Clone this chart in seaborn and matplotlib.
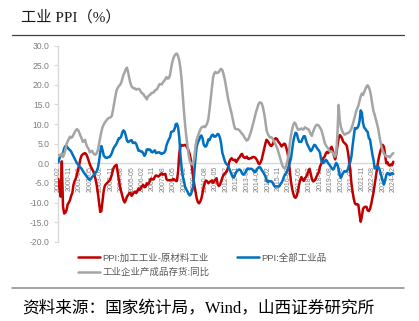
import numpy as np
import pandas as pd
import matplotlib
matplotlib.use("Agg")
import matplotlib.pyplot as plt
from matplotlib.lines import Line2D
import seaborn as sns

# ---------------- data (monthly, 2000-02 .. 2024-02) ----------------
ppi_all = [
    0.2, 1.3, 2.0, 2.1, 2.6, 3.8, 4.4, 4.4, 4.0, 3.6, 3.4,                 # 2000
    3.0, 2.4, 1.8, 1.2, 0.6, 0.0, -0.3, -0.7, -1.1, -1.4, -1.9, -2.4,      # 2001
    -2.8, -3.2, -3.6, -4.0, -4.2, -4.0, -3.5, -3.2, -2.7, -2.3, -2.0, -1.2,  # 2002
    0.5, 2.8, 4.4, 3.4, 2.0, 1.6, 1.4, 1.4, 1.6, 1.6, 2.0, 2.6,            # 2003
    3.5, 4.1, 4.5, 5.0, 5.7, 6.4, 6.4, 6.8, 7.9, 8.4, 8.1, 7.1,            # 2004
    5.8, 5.4, 5.6, 5.8, 5.9, 5.2, 5.2, 5.3, 4.9, 4.0, 3.2, 3.2,            # 2005
    3.0, 3.0, 2.5, 1.9, 2.4, 3.5, 3.6, 3.4, 3.5, 2.9, 2.8, 3.1,            # 2006
    3.3, 2.6, 2.7, 2.8, 2.8, 2.5, 2.4, 2.6, 2.7, 3.2, 4.6, 5.4,            # 2007
    6.1, 6.6, 8.0, 8.1, 8.2, 8.8, 10.0, 10.1, 9.1, 6.6, 2.0, -1.1,         # 2008
    -3.3, -4.5, -6.0, -6.6, -7.2, -7.8, -8.2, -7.9, -7.0, -5.8, -2.1, 1.7,  # 2009
    4.3, 5.4, 5.9, 6.8, 7.1, 6.4, 4.8, 4.3, 4.3, 5.0, 6.1, 5.9,            # 2010
    6.6, 7.2, 7.3, 6.8, 6.8, 7.1, 7.5, 7.3, 6.5, 5.0, 2.7, 1.7,            # 2011
    0.7, 0.0, -0.3, -0.7, -1.4, -2.1, -2.9, -3.5, -3.6, -2.8, -2.2, -1.9,  # 2012
    -1.6, -1.6, -1.9, -2.6, -2.9, -2.7, -2.3, -1.6, -1.3, -1.5, -1.4, -1.4,  # 2013
    -1.6, -2.0, -2.3, -2.0, -1.4, -1.1, -0.9, -1.2, -1.8, -2.2, -2.7, -3.3,  # 2014
    -4.3, -4.8, -4.6, -4.6, -4.6, -4.8, -5.4, -5.9, -5.9, -5.9, -5.9, -5.9,  # 2015
    -5.3, -4.9, -4.3, -3.4, -2.8, -2.6, -1.7, -0.8, 0.1, 1.2, 3.3, 5.5,    # 2016
    6.9, 7.8, 7.6, 6.4, 5.5, 5.5, 5.5, 6.3, 6.9, 6.9, 5.8, 4.9,            # 2017
    4.3, 3.7, 3.1, 3.4, 4.1, 4.7, 4.6, 4.1, 3.6, 3.3, 2.7, 0.9,            # 2018
    0.1, 0.1, 0.4, 0.9, 0.6, 0.0, -0.3, -0.8, -1.2, -1.6, -1.4, -0.5,      # 2019
    0.1, -0.4, -1.5, -3.1, -3.7, -3.0, -2.4, -2.0, -2.1, -2.1, -1.5, -0.4,  # 2020
    0.3, 1.7, 4.4, 6.8, 9.0, 8.8, 9.0, 9.5, 10.7, 13.5, 12.9, 10.3,        # 2021
    9.1, 8.8, 8.3, 8.0, 6.4, 6.1, 4.2, 2.3, 0.9, -1.3, -1.3, -0.7,         # 2022
    -0.8, -1.4, -2.5, -3.6, -4.6, -5.4, -4.4, -3.0, -2.5, -2.6, -3.0, -2.7,  # 2023
    -2.5, -2.7,                                                            # 2024
]

ppi_spread = [
    -4.0, -6.5, -8.5, 0.5, -11.0, -12.8, -12.6, -12.0, -10.5, -10.0, -9.4,   # 2000
    -8.3, -7.6, -5.5, -4.5, -3.9, -2.9, -1.5, -0.3, 1.1, 2.0, 2.3, 2.5,      # 2001
    2.6, 2.3, 1.6, 0.7, -0.2, -0.9, -1.5, -2.0, -2.9, -4.1, -5.6, -7.6,      # 2002
    -10.0, -12.4, -12.2, -9.5, -7.0, -5.7, -5.3, -5.0, -4.7, -4.4, -3.8, -2.9,  # 2003
    -1.6, -0.9, -0.6, -0.4, -2.2, -4.2, -6.0, -7.2, -8.3, -9.4, -10.0, -9.4,   # 2004
    -8.5, -8.1, -7.6, -7.5, -8.3, -7.9, -7.4, -7.2, -7.6, -7.0, -6.4, -6.8,   # 2005
    -6.3, -5.8, -5.5, -6.1, -6.0, -5.1, -5.4, -5.0, -4.2, -3.9, -4.1, -4.1,   # 2006
    -3.4, -3.1, -3.2, -3.4, -3.1, -2.8, -2.6, -2.9, -2.8, -2.7, -4.1, -4.3,   # 2007
    -4.3, -4.3, -4.3, -4.2, -4.0, -4.2, -4.5, -4.5, -2.0, 2.5, 4.4, 4.7,      # 2008
    4.5, 4.6, 4.7, 4.4, 3.9, 3.2, 2.3, 0.8, -1.3, -3.7, -5.6, -7.3,          # 2009
    -9.0, -9.9, -10.2, -9.8, -9.0, -7.6, -6.0, -4.8, -4.4, -4.6, -5.1, -4.8,  # 2010
    -4.6, -4.4, -5.0, -4.6, -4.2, -3.8, -5.3, -5.8, -5.5, -4.6, -3.7, -3.0,   # 2011
    -2.7, -2.3, -2.0, -1.0, 0.4, 1.0, 1.3, 0.9, 0.8, 0.9, 0.3, 0.8,          # 2012
    1.3, 1.6, 2.2, 2.4, 1.7, 1.4, 1.4, 1.7, 1.2, 1.1, 1.3, 1.3,              # 2013
    1.6, 1.6, 1.5, 1.2, 0.7, 0.0, -0.2, 0.3, 1.1, 2.4, 3.8, 5.0,             # 2014
    6.0, 5.7, 5.2, 4.7, 4.4, 4.7, 5.3, 6.2, 6.4, 6.2, 5.6, 5.2,              # 2015
    4.8, 4.3, 4.6, 5.0, 4.9, 4.0, 2.8, 1.0, -1.8, -4.6, -6.4, -7.7,          # 2016
    -8.6, -8.8, -8.3, -7.1, -5.5, -4.2, -3.5, -4.2, -4.5, -3.8, -3.5, -2.9,   # 2017
    -2.0, -1.4, -2.6, -4.0, -4.6, -4.5, -4.1, -3.4, -2.8, -2.2, -0.8, -0.2,   # 2018
    0.6, 1.4, 1.7, 2.5, 2.9, 2.6, 3.1, 3.8, 4.2, 3.3, 2.0, 1.0,              # 2019
    2.3, 4.5, 6.3, 7.2, 6.9, 6.3, 5.5, 5.2, 4.9, 4.5, 2.9, 0.8,              # 2020
    -1.8, -5.0, -7.2, -9.0, -10.2, -10.5, -10.4, -10.6, -13.0, -14.9, -13.6, -11.6,  # 2021
    -11.2, -11.1, -11.1, -12.0, -12.2, -11.7, -10.5, -8.9, -7.5, -5.5, -3.5, -1.5,   # 2022
    0.5, 2.0, 3.2, 4.0, 4.7, 4.2, 2.0, 0.0, 0.3, -0.4, -0.6, -0.3,           # 2023
    -0.5, 0.4,                                                               # 2024
]

inventory_yoy = [
    2.1, 1.9, 2.2, 2.5, 1.6, 2.3, 3.4, 4.9, 5.6, 6.2, 6.8,                   # 2000
    6.5, 6.7, 7.3, 7.9, 8.4, 8.7, 8.5, 7.8, 7.0, 6.4, 5.5, 5.6,              # 2001
    6.0, 4.8, 4.1, 3.7, 2.8, 3.0, 3.2, 2.6, 2.3, 2.2, 2.6, 3.4,              # 2002
    5.0, 6.6, 8.1, 9.2, 9.9, 10.4, 10.8, 11.2, 11.5, 11.6, 11.8, 12.1,       # 2003
    13.6, 15.3, 17.0, 18.5, 19.2, 19.7, 20.0, 20.5, 21.5, 22.6, 23.2, 24.0,  # 2004
    24.4, 23.2, 21.7, 20.4, 19.6, 19.3, 19.1, 19.1, 18.8, 18.9, 19.0, 18.8,  # 2005
    18.2, 17.9, 17.7, 17.2, 16.8, 16.3, 17.0, 17.3, 17.5, 17.9, 18.0, 18.1,  # 2006
    18.6, 18.7, 19.0, 19.6, 20.2, 20.2, 20.1, 20.7, 21.0, 21.5, 22.0, 21.6,  # 2007
    21.7, 22.5, 24.3, 25.8, 26.9, 27.5, 27.9, 28.0, 27.3, 26.2, 24.2, 21.3,  # 2008
    17.1, 13.3, 9.8, 6.9, 4.6, 2.2, 0.6, 0.0, -0.3, 0.0, 1.5, 4.5,           # 2009
    6.1, 6.9, 7.8, 8.6, 9.1, 9.3, 9.4, 9.2, 9.6, 10.2, 11.3, 13.7,           # 2010
    16.4, 19.2, 21.8, 22.9, 23.3, 23.0, 23.1, 23.3, 23.8, 24.1, 23.8, 22.8,  # 2011
    21.6, 19.9, 18.1, 16.4, 15.1, 13.9, 12.7, 11.2, 9.8, 8.8, 8.7, 8.7,      # 2012
    8.6, 8.3, 7.9, 7.5, 7.2, 6.6, 6.2, 5.8, 6.0, 6.6, 7.5, 8.4,              # 2013
    9.5, 10.7, 11.9, 13.1, 14.0, 15.0, 15.5, 15.5, 15.2, 14.2, 12.7, 10.8,   # 2014
    8.5, 7.6, 7.0, 6.6, 6.7, 6.4, 5.9, 5.2, 4.7, 4.0, 3.1, 2.1,              # 2015
    1.1, 0.0, -0.8, -1.2, -1.2, -0.6, 0.6, 2.3, 4.9, 7.0, 8.6, 9.8,          # 2016
    10.4, 10.1, 9.3, 8.6, 8.6, 8.7, 8.9, 8.6, 8.7, 9.2, 9.0, 8.8,            # 2017
    8.7, 8.2, 7.4, 7.0, 8.0, 8.8, 9.4, 9.8, 9.8, 9.6, 9.1, 8.6,              # 2018
    7.7, 6.5, 5.3, 4.6, 4.2, 3.8, 3.2, 3.0, 3.0, 2.7, 2.2, 1.7,              # 2019
    2.8, 7.5, 14.9, 11.0, 9.2, 8.3, 7.7, 7.3, 7.4, 7.7, 7.7, 7.9,            # 2020
    8.3, 8.8, 9.8, 10.8, 12.0, 13.2, 14.0, 14.7, 15.9, 17.1, 17.8, 17.4,     # 2021
    18.2, 18.9, 19.6, 19.9, 19.4, 18.5, 17.0, 15.0, 13.3, 12.4, 11.3, 10.1,  # 2022
    8.9, 7.1, 5.5, 4.1, 3.2, 2.5, 2.0, 1.7, 1.8, 1.8, 1.5, 1.9,              # 2023
    2.3, 2.6,                                                                # 2024
]

series_names = ["PPI:加工工业-原材料工业", "PPI:全部工业品", "工业企业产成品存货:同比"]
series_colors = ["#C00000", "#0070C0", "#A5A5A5"]

tick_labels = [
    "2000-02", "2000-11", "2001-08", "2002-05", "2003-02", "2003-11", "2004-08",
    "2005-05", "2006-02", "2006-11", "2007-08", "2008-05", "2009-02", "2009-11",
    "2010-08", "2011-05", "2012-02", "2012-11", "2013-08", "2014-05", "2015-02",
    "2015-11", "2016-08", "2017-05", "2018-02", "2018-11", "2019-08", "2020-05",
    "2021-02", "2021-11", "2022-08", "2023-05", "2024-02",
]
y_ticks = [-20, -15, -10, -5, 0, 5, 10, 15, 20, 25, 30]

# ---------------- build long table ----------------
months = pd.period_range("2000-02", periods=len(ppi_all), freq="M")
month_str = [str(p) for p in months]
idx = np.arange(len(months))
frames = []
for name, vals in zip(series_names, [ppi_spread, ppi_all, inventory_yoy]):
    frames.append(pd.DataFrame({"idx": idx, "month": month_str, "value": vals, "series": name}))
df = pd.concat(frames, ignore_index=True)

# ---------------- style ----------------
sns.set_theme(style="white")
plt.rcParams["font.family"] = ["Liberation Sans", "Noto Sans CJK SC", "DejaVu Sans"]
plt.rcParams["axes.unicode_minus"] = False

fig = plt.figure(figsize=(4.19, 3.21), dpi=100)
ax = fig.add_axes([58 / 419, 1 - 241.7 / 321, (395 - 58) / 419, (241.7 - 45.7) / 321])

sns.lineplot(data=df, x="idx", y="value", hue="series", hue_order=series_names,
             palette=series_colors, linewidth=1.8, estimator=None, sort=False, ax=ax)
for ln in ax.get_lines():
    ln.set_solid_joinstyle("round")
if ax.get_legend() is not None:
    ax.get_legend().remove()

# spines first (set_position resets ticks)
ax.spines["bottom"].set_position(("data", 0))
for s in ["top", "right"]:
    ax.spines[s].set_visible(False)
for s in ["left", "bottom"]:
    ax.spines[s].set_color("#D9D9D9")
    ax.spines[s].set_linewidth(1.0)
    ax.spines[s].set_zorder(0.5)

ax.set_ylim(-20, 30)
ax.set_xlim(-0.3, 289.5)
ax.set_xlabel("")
ax.set_ylabel("")

# y axis
ax.set_yticks(y_ticks)
ax.set_yticklabels([f"{v:.1f}" for v in y_ticks])
ax.tick_params(axis="y", which="major", direction="out", length=3, width=0.8,
               color="#D9D9D9", labelsize=6.2, labelcolor="#7F7F7F", pad=3, left=True)

# x axis at zero
tick_pos = [month_str.index(t) for t in tick_labels]
ax.set_xticks(tick_pos)
ax.set_xticklabels(tick_labels)
ax.tick_params(axis="x", which="major", length=0, labelsize=5.0, labelcolor="#7F7F7F",
               pad=2, labelrotation=90, bottom=True)
for lab in ax.get_xticklabels():
    lab.set_verticalalignment("top")
    lab.set_horizontalalignment("center")

ax.set_facecolor("white")
fig.patch.set_facecolor("white")

# legend
handles = [Line2D([0], [0], color=c, lw=1.8) for c in series_colors]
order = [0, 2, 1]
fig.legend([handles[i] for i in order], [series_names[i] for i in order],
           ncol=2, loc="upper left", bbox_to_anchor=(78 / 419, 1 - 253 / 321),
           frameon=False, fontsize=6.8, labelcolor="#595959",
           handlelength=2.35, handletextpad=0.25, columnspacing=2.9,
           labelspacing=0.55, borderpad=0, borderaxespad=0)

# title, rules, source
fig.text(21 / 419, 1 - 17.5 / 321, "工业 PPI（%）", fontsize=11, color="#1A1A1A",
         va="center", ha="left", family=["Liberation Serif", "Noto Sans CJK SC"])
fig.add_artist(Line2D([12 / 419, 404 / 419], [1 - 35 / 321] * 2, transform=fig.transFigure,
                      color="#404040", lw=0.9))
fig.add_artist(Line2D([12 / 419, 404 / 419], [1 - 288 / 321] * 2, transform=fig.transFigure,
                      color="#8C8C8C", lw=1.1))
fig.text(22 / 419, 1 - 309 / 321, "资料来源：国家统计局，Wind，山西证券研究所", fontsize=12,
         color="#000000", va="center", ha="left", family=["Liberation Serif", "Noto Sans CJK SC"])

fig.savefig("out.png", dpi=100, facecolor="white")
